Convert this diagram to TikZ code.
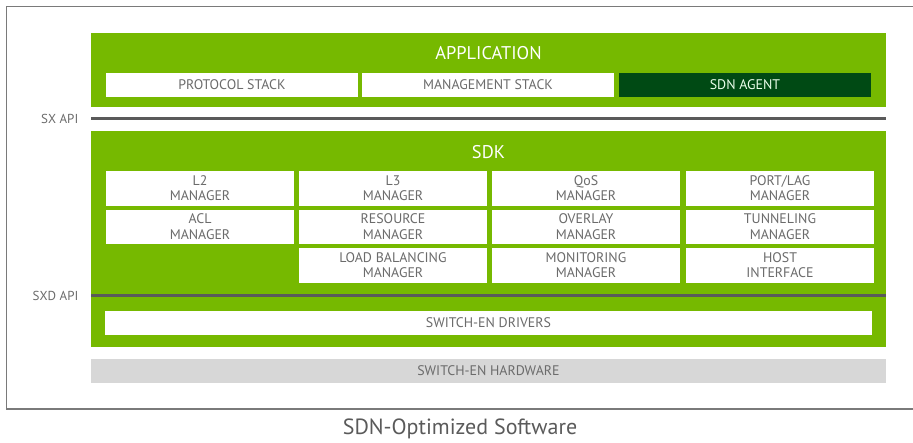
\documentclass[tikz,border=0pt]{standalone}
\usepackage{fontspec}
\setmainfont{PT Sans}
\definecolor{nvgreen}{HTML}{76B900}
\definecolor{darkgreen}{HTML}{004A14}
\definecolor{txtgray}{HTML}{6B6B6B}
\definecolor{captgray}{HTML}{5A5A5A}
\definecolor{linegray}{HTML}{5A5A5A}
\definecolor{hwgray}{HTML}{D7D7D7}
\definecolor{framegray}{HTML}{7A7A7A}
\tikzset{
  greenbox/.style={fill=nvgreen, draw=none, inner sep=0pt},
  cell/.style={fill=white, text=txtgray, draw=none, inner sep=0pt, align=center,
    font=\fontsize{13.9}{15.6}\selectfont, minimum width=188pt, minimum height=34.5pt},
  appcell/.style={fill=white, text=txtgray, draw=none, inner sep=0pt,
    font=\fontsize{13.9}{15}\selectfont, minimum width=252pt, minimum height=24pt},
  title/.style={text=white, font=\fontsize{18.4}{20}\selectfont, inner sep=0pt},
  apiline/.style={draw=linegray, line width=3.5pt},
  apilabel/.style={text=txtgray, font=\fontsize{13}{14}\selectfont, anchor=east, inner sep=0pt},
}
\begin{document}
\begin{tikzpicture}[x=1pt,y=-1pt]
\useasboundingbox (0,0) rectangle (913,442);
% frame
\draw[framegray, line width=1.4pt] (920,6.5) -- (6.5,6.5) -- (6.5,409) -- (920,409);
% green boxes
\node[greenbox, minimum width=795pt, minimum height=74pt] (app) at (488.5,70) {};
\node[greenbox, minimum width=795pt, minimum height=216pt] (sdk) at (488.5,239) {};
\node[title] (apptitle) at (488.5,53) {APPLICATION};
\node[title] (sdktitle) at (488.5,152) {SDK};
% application row
\node[appcell] (proto) at (232,85) {PROTOCOL STACK};
\node[appcell] (mgmt) at (488,85) {MANAGEMENT STACK};
\node[appcell, fill=darkgreen, text=white!92!green] (agent) at (745,85) {SDN AGENT};
% SX API
\coordinate (sxL) at (91,118.7);
\coordinate (sxR) at (886,118.7);
\draw[apiline] (sxL) -- (sxR);
\node[apilabel] (sxlabel) at (78.5,118.7) {SX API};
% SDK grid
\node[cell] (l2) at (200,188.25) {L2\\MANAGER};
\node[cell] (l3) at (393,188.25) {L3\\MANAGER};
\node[cell] (qos) at (586,188.25) {QoS\\MANAGER};
\node[cell] (port) at (780,188.25) {PORT/LAG\\MANAGER};
\node[cell] (acl) at (200,226.75) {ACL\\MANAGER};
\node[cell] (res) at (393,226.75) {RESOURCE\\MANAGER};
\node[cell] (ovl) at (586,226.75) {OVERLAY\\MANAGER};
\node[cell] (tun) at (780,226.75) {TUNNELING\\MANAGER};
\node[cell] (lb) at (393,265.25) {LOAD BALANCING\\MANAGER};
\node[cell] (mon) at (586,265.25) {MONITORING\\MANAGER};
\node[cell] (host) at (780,265.25) {HOST\\INTERFACE};
% SXD API
\coordinate (sxdL) at (91,295.7);
\coordinate (sxdR) at (886,295.7);
\draw[apiline] (sxdL) -- (sxdR);
\node[apilabel] (sxdlabel) at (78.5,295.7) {SXD API};
% drivers
\node[appcell, minimum width=767pt] (drv) at (488.5,323) {SWITCH-EN DRIVERS};
% hardware
\node[appcell, fill=hwgray, minimum width=795pt] (hw) at (488.5,371) {SWITCH-EN HARDWARE};
% caption
\node[text=captgray, font=\fontsize{22}{24}\selectfont, inner sep=0pt] (cap) at (460,429) {SDN-Optimized Software};
\end{tikzpicture}
\end{document}
